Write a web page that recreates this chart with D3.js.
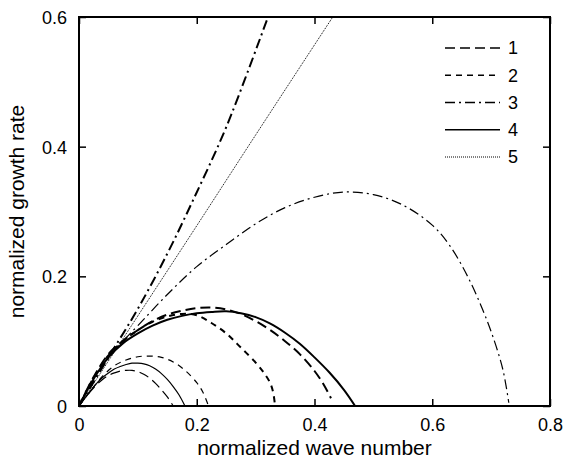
<!DOCTYPE html>
<html>
<head>
<meta charset="utf-8">
<script src="https://cdn.jsdelivr.net/npm/d3@7"></script>
<style>
  html, body { margin: 0; padding: 0; background: #fff; }
  svg { display: block; font-family: "Liberation Sans", Arial, Helvetica, sans-serif; }
</style>
</head>
<body>
<svg id="chart" width="565" height="462"></svg>
<script>
// ---- data ----
const xTicks = [0, 0.2, 0.4, 0.6, 0.8];
const yTicks = [0, 0.2, 0.4, 0.6];
const xTickLabels = ["0", "0.2", "0.4", "0.6", "0.8"];
const yTickLabels = ["0", "0.2", "0.4", "0.6"];
const legendLabels = ["1", "2", "3", "4", "5"];

// thick curves (one parameter set)
const thick1 = [[0,0],[0.025,0.045],[0.05,0.08],[0.075,0.101],[0.1,0.117],[0.125,0.131],[0.15,0.141],[0.175,0.147],[0.2,0.151],[0.225,0.152],[0.25,0.149],[0.275,0.142],[0.3,0.131],[0.325,0.117],[0.35,0.1],[0.375,0.08],[0.4,0.054],[0.415,0.034],[0.428,0.012]];
const thick2 = [[0,0],[0.025,0.044],[0.05,0.078],[0.075,0.1],[0.1,0.117],[0.125,0.13],[0.15,0.138],[0.175,0.142],[0.2,0.14],[0.225,0.128],[0.25,0.112],[0.275,0.09],[0.3,0.067],[0.315,0.05],[0.325,0.035],[0.33,0.02],[0.333,0]];
const thick3 = [[0,0],[0.05,0.075],[0.1,0.15],[0.15,0.235],[0.194,0.318],[0.25,0.43],[0.321,0.6]];
const thick4 = [[0,0],[0.025,0.042],[0.05,0.075],[0.075,0.097],[0.1,0.112],[0.125,0.124],[0.15,0.133],[0.175,0.139],[0.2,0.143],[0.225,0.145],[0.25,0.146],[0.275,0.143],[0.3,0.137],[0.325,0.127],[0.35,0.113],[0.375,0.096],[0.4,0.075],[0.425,0.052],[0.45,0.025],[0.469,0]];
// thin curves (second parameter set)
const thin1 = [[0,0],[0.01,0.012],[0.02,0.023],[0.03,0.033],[0.04,0.041],[0.05,0.047],[0.06,0.051],[0.07,0.054],[0.08,0.055],[0.09,0.055],[0.1,0.053],[0.11,0.049],[0.12,0.043],[0.13,0.035],[0.14,0.025],[0.15,0.014],[0.16,0]];
const thin2 = [[0,0],[0.02,0.024],[0.04,0.046],[0.06,0.062],[0.08,0.071],[0.1,0.076],[0.12,0.077],[0.14,0.075],[0.16,0.068],[0.18,0.055],[0.2,0.036],[0.21,0.022],[0.22,0]];
const thin3 = [[0,0],[0.025,0.04],[0.05,0.073],[0.075,0.1],[0.1,0.124],[0.15,0.172],[0.2,0.215],[0.25,0.249],[0.3,0.281],[0.35,0.306],[0.4,0.322],[0.45,0.33],[0.5,0.326],[0.55,0.31],[0.6,0.279],[0.63,0.247],[0.66,0.2],[0.685,0.15],[0.703,0.107],[0.72,0.056],[0.73,0.005]];
const thin4 = [[0,0],[0.01,0.012],[0.02,0.024],[0.03,0.035],[0.04,0.044],[0.05,0.051],[0.06,0.057],[0.07,0.061],[0.08,0.064],[0.09,0.066],[0.1,0.066],[0.11,0.065],[0.12,0.062],[0.13,0.057],[0.14,0.05],[0.15,0.041],[0.16,0.03],[0.17,0.017],[0.18,0]];
const line5 = [[0,0],[0.1,0.139],[0.2,0.278],[0.3,0.418],[0.431,0.6]];

// ---- styles ----
const dashes = { "1": "10,5", "2": "6,5", "3": "10,4,2,4", "4": null, "5": "1,1" };
const series = [
  { data: thick1, style: "1", w: 2 },
  { data: thick2, style: "2", w: 2 },
  { data: thick3, style: "3", w: 2 },
  { data: thick4, style: "4", w: 2 },
  { data: thin1, style: "1", w: 1.2 },
  { data: thin2, style: "2", w: 1.2 },
  { data: thin3, style: "3", w: 1.2 },
  { data: thin4, style: "4", w: 1.2 },
  { data: line5, style: "5", w: 1 }
];

const svg = d3.select("#chart");
const L = 79, R = 550, T = 17, B = 406;
const x = d3.scaleLinear().domain([0, 0.8]).range([L, R]);
const y = d3.scaleLinear().domain([0, 0.6]).range([B, T]);

svg.append("clipPath").attr("id", "clip")
  .append("rect").attr("x", L).attr("y", T).attr("width", R - L).attr("height", B - T);

const line = d3.line().x(d => x(d[0])).y(d => y(d[1])).curve(d3.curveCatmullRom.alpha(0.5));

svg.append("g").attr("clip-path", "url(#clip)")
  .selectAll("path").data(series).join("path")
  .attr("d", d => line(d.data))
  .attr("fill", "none")
  .attr("stroke", "#000")
  .attr("stroke-width", d => d.w)
  .attr("stroke-dasharray", d => dashes[d.style]);

// axes (ticks inward on all sides)
const fs = 18;
const axB = svg.append("g").attr("transform", `translate(0,${B})`)
  .call(d3.axisBottom(x).tickValues(xTicks).tickSize(-7).tickPadding(12).tickFormat((d, i) => xTickLabels[i]));
const axT = svg.append("g").attr("transform", `translate(0,${T})`)
  .call(d3.axisTop(x).tickValues(xTicks).tickSize(-7).tickFormat(""));
const axL = svg.append("g").attr("transform", `translate(${L},0)`)
  .call(d3.axisLeft(y).tickValues(yTicks).tickSize(-7).tickPadding(12).tickFormat((d, i) => yTickLabels[i]));
const axR = svg.append("g").attr("transform", `translate(${R},0)`)
  .call(d3.axisRight(y).tickValues(yTicks).tickSize(-7).tickFormat(""));
[axB, axT, axL, axR].forEach(a => {
  a.select(".domain").remove();
  a.selectAll("line").attr("stroke", "#000").attr("stroke-width", 1.5);
  a.selectAll("text").attr("font-size", fs).attr("fill", "#000")
    .attr("font-family", "Liberation Sans, Arial, sans-serif");
});
axL.selectAll("text").attr("dy", "0.36em");

svg.append("rect").attr("x", L).attr("y", T).attr("width", R - L).attr("height", B - T)
  .attr("fill", "none").attr("stroke", "#000").attr("stroke-width", 2);

// axis titles
svg.append("text").attr("x", (L + R) / 2).attr("y", 455)
  .attr("text-anchor", "middle").attr("font-size", 21).text("normalized wave number");
svg.append("text").attr("transform", `translate(24,${(T + B) / 2}) rotate(-90)`)
  .attr("text-anchor", "middle").attr("font-size", 21).text("normalized growth rate");

// legend
const lg = svg.append("g");
const legY = d3.scalePoint().domain(legendLabels).range([48, 157]);
legendLabels.forEach(k => {
  lg.append("line").attr("x1", 445).attr("x2", 500).attr("y1", legY(k)).attr("y2", legY(k))
    .attr("stroke", "#000").attr("stroke-width", k === "5" ? 1 : 1.3)
    .attr("stroke-dasharray", dashes[k]);
  lg.append("text").attr("x", 508).attr("y", legY(k)).attr("dy", "0.36em")
    .attr("font-size", fs).text(k);
});
</script>
</body>
</html>
